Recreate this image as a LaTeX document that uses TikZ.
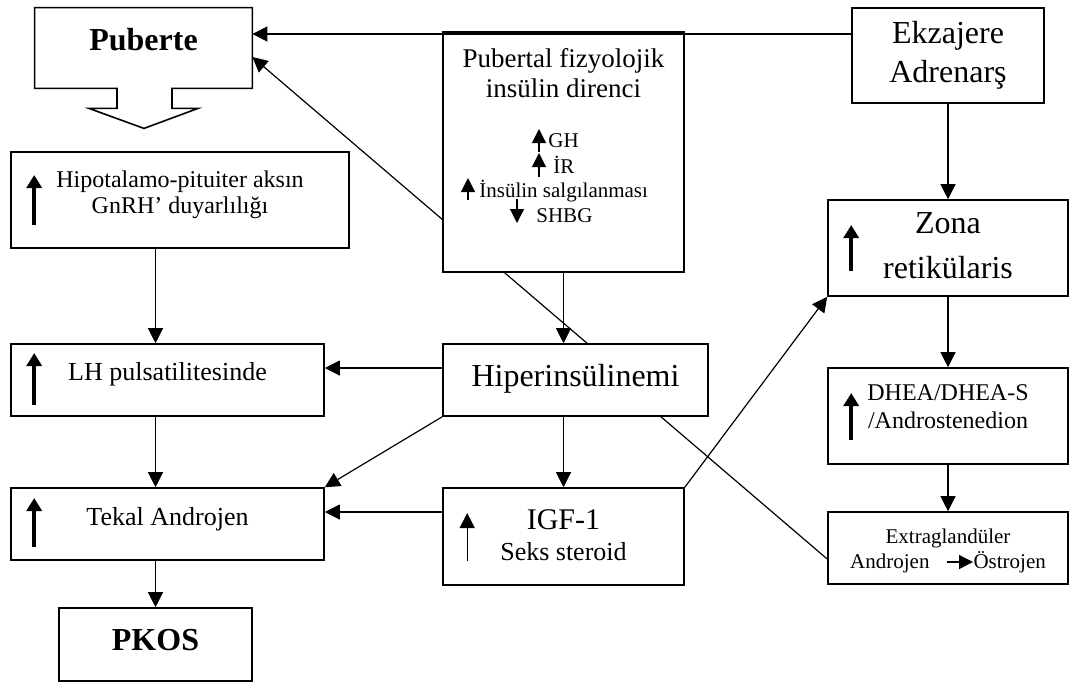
\documentclass[tikz,border=0pt]{standalone}
\usepackage{fontspec}
\setmainfont{Liberation Serif}
\usetikzlibrary{arrows.meta,calc,backgrounds}

\tikzset{
  box/.style={draw, line width=0.8pt, fill=white, inner sep=0pt, align=center},
  bl/.style={text height=#1pt, text depth=0pt},
  conn/.style={line width=0.6pt, -{Triangle[length=7.5pt,width=7.5pt]}},
  plain/.style={line width=0.6pt},
  uparr/.style={line width=2.2pt, -{Triangle[length=6.5pt,width=7.5pt]}},
  thinarr/.style={line width=0.6pt, -{Triangle[length=7.5pt,width=7.5pt]}},
  smallarr/.style={line width=0.6pt, -{Triangle[length=7pt,width=7pt]}},
}

\begin{document}
\begin{tikzpicture}[x=0.5pt, y=-0.5pt]
\useasboundingbox (0,0) rectangle (1069,682);

% Puberte with its down arrow
\node[minimum width=108.5pt, minimum height=40pt, inner sep=0pt, bl=2, font=\fontsize{16}{19}\selectfont\bfseries] (puberte) at (143.5,48) {Puberte};
\draw[line width=0.8pt] (puberte.south west) -- (puberte.north west) -- (puberte.north east) -- (puberte.south east)
  -- ($(puberte.south)+(28.5,0)$) -- ++(0,20) -- ++(26,0) -- ($(puberte.south)+(0.5,40)$)
  -- ($(puberte.south)+(-54.5,20)$) -- ++(28,0) -- ++(0,-20) -- cycle;

\node[box, minimum width=96pt, minimum height=47.5pt, bl=26.5, font=\fontsize{16}{19.5}\selectfont] (ekz) at (948,55.5) {Ekzajere\\Adrenarş};

% middle box
\node[box, minimum width=120.5pt, minimum height=120pt] (pubfiz) at (563.5,152) {};
\node[font=\fontsize{13.5}{15}\selectfont, align=center, anchor=base, inner sep=0pt] (pubtitle) at (563.5,97) {Pubertal fizyolojik\\insülin direnci};
\foreach \n/\x/\y/\t in {gh/548/147/GH, ir/553/173/İR, insal/479/197/İnsülin salgılanması, shbg/536/222/SHBG}
  \node[font=\fontsize{10.5}{12}\selectfont, anchor=base west, inner sep=0pt] (\n) at (\x,\y) {\t};

% left column
\node[box, minimum width=169pt, minimum height=48pt, bl=13, font=\fontsize{12}{13}\selectfont] (hipo) at (180,200) {Hipotalamo-pituiter aksın\\GnRH’ duyarlılığı};
\node[box, minimum width=156.5pt, minimum height=36pt, bl=0, font=\fontsize{13}{15}\selectfont] (lh) at (167.5,380) {LH pulsatilitesinde};
\node[box, minimum width=156.5pt, minimum height=36pt, bl=1, font=\fontsize{13}{15}\selectfont] (tekal) at (167.5,524) {Tekal Androjen};
\node[box, minimum width=96.5pt, minimum height=36.5pt, bl=5.5, font=\fontsize{16}{19}\selectfont\bfseries] (pkos) at (155.5,644.5) {PKOS};

% centre column
\node[box, minimum width=132.5pt, minimum height=36pt, bl=6, font=\fontsize{16}{19}\selectfont] (hiper) at (575.5,380) {Hiperinsülinemi};
\node[box, minimum width=120.5pt, minimum height=48.5pt, bl=23.5, font=\fontsize{13}{15.5}\selectfont] (igf) at (563.5,536.5) {{\fontsize{15}{15.5}\selectfont IGF-1}\\Seks steroid};

% right column
\node[box, minimum width=120pt, minimum height=48pt, bl=30, font=\fontsize{16}{22.5}\selectfont] (zona) at (948,248) {Zona\\retikülaris};
\node[box, minimum width=120pt, minimum height=48pt, bl=12, font=\fontsize{12}{14}\selectfont] (dhea) at (948,416) {DHEA/DHEA-S\\/Androstenedion};
\node[box, minimum width=120pt, minimum height=36pt, bl=20, font=\fontsize{10.5}{12.5}\selectfont] (extra) at (948,548) {Extraglandüler\\Androjen\hspace{22pt}Östrojen};

% connectors
\coordinate (topline) at (0,34);
\draw[conn] (ekz.west |- topline) -- (puberte.east |- topline);
\begin{pgfonlayer}{background}
  \draw[conn] ($(hiper.north)+(11.5,0)$) -- ($(puberte.east)+(0,9)$);
\end{pgfonlayer}
\draw[conn] (pubfiz.south) -- (pubfiz.south |- hiper.north);
\draw[conn] (ekz.south) -- (zona.north);
\draw[conn] (zona.south) -- (dhea.north);
\draw[conn] (dhea.south) -- (extra.north);
\draw[conn] (hipo.south -| pkos.north) -- (lh.north -| pkos.north);
\draw[conn] (lh.south -| pkos.north) -- (tekal.north -| pkos.north);
\draw[conn] (tekal.south -| pkos.north) -- (pkos.north);
\draw[conn] ([yshift=6pt]hiper.west) -- ([yshift=6pt]hiper.west -| lh.east);
\draw[conn] (hiper.south west) -- (tekal.north east);
\draw[conn] (hiper.south -| igf.north) -- (igf.north);
\draw[conn] ([yshift=12.25pt]igf.west) -- ([yshift=12.25pt]igf.west -| tekal.east);
\draw[conn] (igf.north east) -- (zona.south west);
\draw[plain] ($(hiper.south)+(85.5,0)$) -- ($(extra.west)+(0,11)$);

% rising arrows in the boxes
\foreach \n/\d/\l in {hipo/25/50, lh/25/52, tekal/23/49, zona/23/46, dhea/24/47}
  \draw[uparr] ($(\n.west)+(24,\d)$) -- ++(0,-\l);
\draw[thinarr] ($(igf.west)+(25,24.5)$) -- ++(0,-48);

% small arrows
\draw[smallarr] ($(gh.base west)+(-9,5)$) -- ++(0,-23);
\draw[smallarr] ($(ir.base west)+(-14,4)$) -- ++(0,-24);
\draw[smallarr] ($(insal.base west)+(-11,3)$) -- ++(0,-22);
\draw[smallarr] ($(shbg.base west)+(-19,-23)$) -- ++(0,24);
\draw[smallarr] ($(extra.center)+(-1,14)$) -- ++(26,0);
\end{tikzpicture}
\end{document}
